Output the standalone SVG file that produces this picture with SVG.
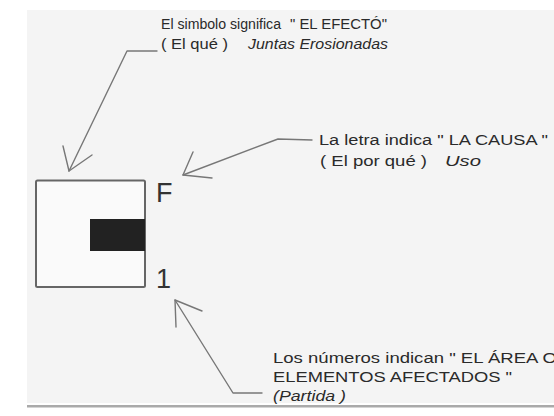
<svg xmlns="http://www.w3.org/2000/svg" width="554" height="416" viewBox="0 0 554 416">
<style>
.t{font-family:"Liberation Sans",Arial,sans-serif;font-size:14px;fill:#2a2a2a}
.i{font-style:italic}
.big{font-family:"Liberation Sans",Arial,sans-serif;font-size:27px;fill:#333}
.c{fill:none;stroke:#777;stroke-width:1.4;stroke-linecap:round;stroke-linejoin:round}
</style>
<rect x="0" y="0" width="554" height="416" fill="#fff"/>
<rect x="27" y="10" width="527" height="393" fill="#f4f4f4"/>
<rect x="27" y="405" width="527" height="2.5" fill="#aaa"/>
<g id="symbol">
<rect x="36" y="180.5" width="109" height="106.5" rx="1.5" fill="#fafafa" stroke="#666" stroke-width="2"/>
<rect x="90" y="219" width="55" height="32" fill="#222"/>
<text class="big" x="156" y="202">F</text>
<text class="big" x="156" y="288">1</text>
</g>
<g id="label-efecto">
<text class="t" y="29"><tspan x="161" textLength="120" lengthAdjust="spacingAndGlyphs">El simbolo significa</tspan><tspan x="290" textLength="97" lengthAdjust="spacingAndGlyphs">" EL EFECTÓ"</tspan></text>
<text class="t" y="49"><tspan x="161" textLength="67" lengthAdjust="spacingAndGlyphs">( El qué )</tspan><tspan class="i" x="248" textLength="140" lengthAdjust="spacingAndGlyphs">Juntas Erosionadas</tspan></text>
</g>
<g id="label-causa">
<text class="t" x="319" y="145" textLength="229" lengthAdjust="spacingAndGlyphs">La letra indica " LA CAUSA "</text>
<text class="t" y="166"><tspan x="320" textLength="107" lengthAdjust="spacingAndGlyphs">( El por qué )</tspan><tspan class="i" x="445" textLength="36" lengthAdjust="spacingAndGlyphs">Uso</tspan></text>
</g>
<g id="label-area">
<text class="t" x="273" y="363" textLength="284" lengthAdjust="spacingAndGlyphs">Los números indican " EL ÁREA O</text>
<text class="t" x="273" y="382" textLength="239" lengthAdjust="spacingAndGlyphs">ELEMENTOS AFECTADOS "</text>
<text class="t i" x="273" y="401" textLength="73" lengthAdjust="spacingAndGlyphs">(Partida )</text>
</g>
<g id="connectors">
<polyline class="c" points="157,51 127,51 69,171"/>
<polyline class="c" points="63,146 69,171 92,155"/>
<polyline class="c" points="312,140 278,139 183,175"/>
<polyline class="c" points="193,152 183,175 212,178"/>
<polyline class="c" points="262,393 233,393 175,300"/>
<polyline class="c" points="202,311 175,300 176,327"/>
</g>
</svg>
